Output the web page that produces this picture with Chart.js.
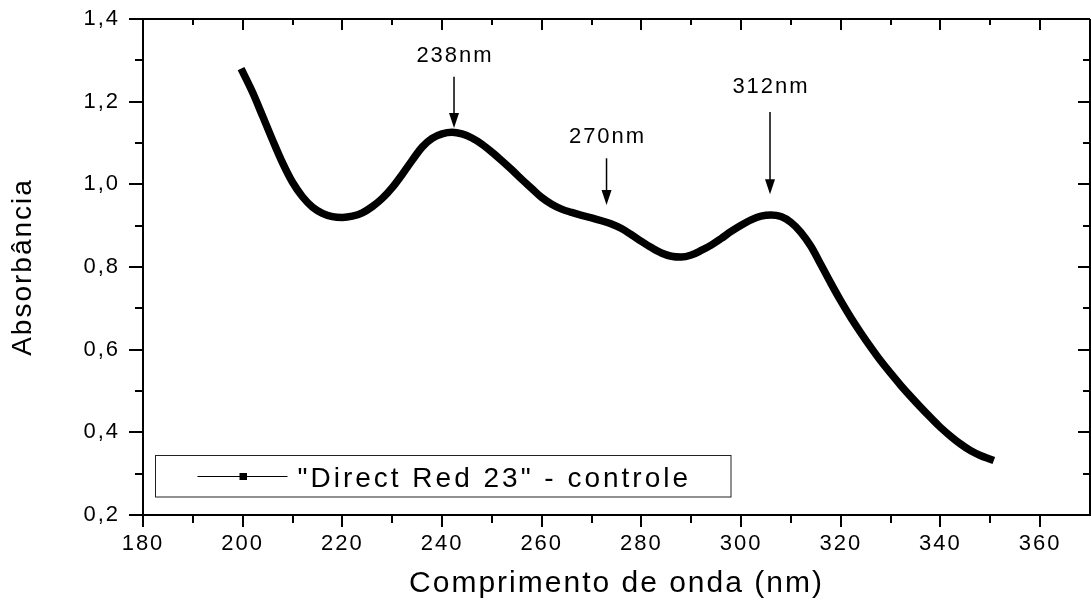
<!DOCTYPE html>
<html lang="pt">
<head>
<meta charset="UTF-8">
<title>Direct Red 23 - controle</title>
<script src="https://cdn.jsdelivr.net/npm/chart.js"></script>
<style>
  html, body { margin: 0; padding: 0; background: #fff; }
  #wrap { width: 1091px; height: 603px; }
</style>
</head>
<body>
<div id="wrap"><canvas id="chart" width="1091" height="603"></canvas></div>
<script>
// wavelength (nm) and absorbance
var wavelengths = [200, 202, 204, 206, 208, 210, 212, 214, 216, 218,
                   220, 222, 224, 226, 228, 230, 232, 234, 236, 238,
                   240, 242, 244, 246, 248, 250, 252, 254, 256, 258,
                   260, 262, 264, 266, 268, 270, 272, 274, 276, 278,
                   280, 282, 284, 286, 288, 290, 292, 294, 296, 298,
                   300, 302, 304, 306, 308, 310, 312, 314, 316, 318,
                   320, 322, 324, 326, 328, 330, 332, 334, 336, 338,
                   340, 342, 344, 346, 348, 350];
var absorbance = [1.272, 1.222, 1.165, 1.107, 1.052, 1.005, 0.970, 0.945, 0.930, 0.922,
                  0.920, 0.923, 0.931, 0.946, 0.966, 0.992, 1.024, 1.058, 1.090, 1.111,
                  1.122, 1.126, 1.122, 1.112, 1.097, 1.078, 1.057, 1.035, 1.012, 0.990,
                  0.968, 0.952, 0.940, 0.932, 0.925, 0.919, 0.912, 0.904, 0.893, 0.878,
                  0.862, 0.847, 0.834, 0.826, 0.824, 0.829, 0.840, 0.853, 0.869, 0.886,
                  0.901, 0.914, 0.923, 0.926, 0.922, 0.908, 0.884, 0.850, 0.806, 0.761,
                  0.718, 0.678, 0.641, 0.606, 0.573, 0.543, 0.514, 0.487, 0.461, 0.436,
                  0.412, 0.391, 0.372, 0.356, 0.344, 0.335];
var seriesLabel = '"Direct Red 23" - controle';

var xMajorTicks = [180, 200, 220, 240, 260, 280, 300, 320, 340, 360];
var xMinorTicks = [190, 210, 230, 250, 270, 290, 310, 330, 350];
var yMajorTicks = [0.2, 0.4, 0.6, 0.8, 1.0, 1.2, 1.4];
var yMinorTicks = [0.3, 0.5, 0.7, 0.9, 1.1, 1.3];

// peak markers: label text, arrow x, label baseline, arrow top and tip (data units)
var peakLabels = ['238nm', '270nm', '312nm'];
var peakArrowX = [242.4, 273.0, 305.8];
var peakLabelY = [1.295, 1.099, 1.221];
var peakArrowTop = [1.260, 1.063, 1.175];
var peakArrowTip = [1.136, 0.950, 0.976];

var points = wavelengths.map(function (w, i) { return { x: w, y: absorbance[i] }; });

// frame, inward/outward ticks, legend box and peak arrows
var decorPlugin = {
    id: 'decor',
    beforeDraw: function (chart) {
        chart.ctx.letterSpacing = '2px';
    },
    afterDraw: function (chart) {
        var ctx = chart.ctx, a = chart.chartArea;
        var x = chart.scales.x, y = chart.scales.y;
        ctx.save();
        ctx.letterSpacing = '0px';
        ctx.strokeStyle = '#000';
        ctx.lineWidth = 2;

        ctx.beginPath();
        ctx.moveTo(a.left - 14, a.top);
        ctx.lineTo(a.right, a.top);
        ctx.moveTo(a.right, a.top);
        ctx.lineTo(a.right, a.bottom);

        xMajorTicks.forEach(function (v) {
            var px = Math.round(x.getPixelForValue(v));
            ctx.moveTo(px, a.bottom); ctx.lineTo(px, a.bottom + 12);
            ctx.moveTo(px, a.top); ctx.lineTo(px, a.top + 11);
        });
        xMinorTicks.forEach(function (v) {
            var px = Math.round(x.getPixelForValue(v));
            ctx.moveTo(px, a.bottom); ctx.lineTo(px, a.bottom + 8);
            ctx.moveTo(px, a.top); ctx.lineTo(px, a.top + 6);
        });
        yMajorTicks.forEach(function (v) {
            var py = Math.round(y.getPixelForValue(v));
            ctx.moveTo(a.left, py); ctx.lineTo(a.left - 14, py);
            ctx.moveTo(a.right, py); ctx.lineTo(a.right - 12, py);
        });
        yMinorTicks.forEach(function (v) {
            var py = Math.round(y.getPixelForValue(v));
            ctx.moveTo(a.left, py); ctx.lineTo(a.left - 8, py);
            ctx.moveTo(a.right, py); ctx.lineTo(a.right - 7, py);
        });
        ctx.stroke();

        // peak arrows
        ctx.lineWidth = 1.5;
        ctx.fillStyle = '#000';
        ctx.font = '22px Arial, "Liberation Sans", sans-serif';
        ctx.letterSpacing = '2px';
        ctx.textAlign = 'center';
        ctx.textBaseline = 'alphabetic';
        peakLabels.forEach(function (lbl, i) {
            var px = x.getPixelForValue(peakArrowX[i]);
            var top = y.getPixelForValue(peakArrowTop[i]);
            var tip = y.getPixelForValue(peakArrowTip[i]);
            ctx.beginPath();
            ctx.moveTo(px, top);
            ctx.lineTo(px, tip - 10);
            ctx.stroke();
            ctx.beginPath();
            ctx.moveTo(px - 5, tip - 15);
            ctx.lineTo(px + 5, tip - 15);
            ctx.lineTo(px, tip);
            ctx.closePath();
            ctx.fill();
            ctx.fillText(lbl, px + 1, y.getPixelForValue(peakLabelY[i]));
        });

        // legend box
        var lx = a.left + 12.5, ly = a.bottom - 59.5, lw = 575.5, lh = 41.5;
        ctx.lineWidth = 1;
        ctx.strokeStyle = '#222';
        ctx.fillStyle = '#fff';
        ctx.fillRect(lx, ly, lw, lh);
        ctx.strokeRect(lx, ly, lw, lh);
        var cy = Math.round(ly + lh / 2) + 0.5;
        ctx.beginPath();
        ctx.strokeStyle = '#000';
        ctx.moveTo(lx + 42, cy);
        ctx.lineTo(lx + 132, cy);
        ctx.stroke();
        ctx.fillStyle = '#000';
        ctx.fillRect(lx + 84, cy - 3.5, 7.5, 7);
        ctx.font = '28px Arial, "Liberation Sans", sans-serif';
        ctx.letterSpacing = '3px';
        ctx.textAlign = 'left';
        ctx.fillText(chart.data.datasets[0].label, lx + 142, ly + 31);
        ctx.restore();
    }
};

var fontFamily = 'Arial, "Liberation Sans", sans-serif';

new Chart(document.getElementById('chart').getContext('2d'), {
    type: 'line',
    data: {
        datasets: [{
            label: seriesLabel,
            data: points,
            borderColor: '#000',
            backgroundColor: '#000',
            borderWidth: 7.5,
            borderCapStyle: 'square',
            pointRadius: 0,
            cubicInterpolationMode: 'monotone',
            fill: false
        }]
    },
    options: {
        responsive: false,
        animation: false,
        layout: { padding: { top: 19, right: 1, left: 0, bottom: 0 } },
        plugins: {
            legend: { display: false },
            tooltip: { enabled: false }
        },
        scales: {
            x: {
                type: 'linear',
                min: 180,
                max: 370,
                afterBuildTicks: function (s) {
                    s.ticks = xMajorTicks.map(function (v) { return { value: v }; });
                },
                afterFit: function (s) {
                    s.height = 88;
                    s.paddingLeft = 0;
                    s.paddingRight = 0;
                },
                grid: { display: true, drawOnChartArea: false, drawTicks: false },
                border: { display: true, color: '#000', width: 2 },
                ticks: {
                    color: '#000',
                    padding: 16,
                    maxRotation: 0,
                    autoSkip: false,
                    font: { family: fontFamily, size: 22 }
                },
                title: {
                    display: true,
                    text: 'Comprimento de onda (nm)',
                    color: '#000',
                    font: { family: fontFamily, size: 30 },
                    padding: { top: 0, bottom: 1 }
                }
            },
            y: {
                type: 'linear',
                min: 0.2,
                max: 1.4,
                afterBuildTicks: function (s) {
                    s.ticks = yMajorTicks.map(function (v) { return { value: v }; });
                },
                afterFit: function (s) {
                    s.width = 143;
                    s.paddingTop = 0;
                    s.paddingBottom = 0;
                },
                grid: { display: true, drawOnChartArea: false, drawTicks: false },
                border: { display: true, color: '#000', width: 2 },
                ticks: {
                    color: '#000',
                    padding: 23,
                    font: { family: fontFamily, size: 22 },
                    callback: function (v) { return v.toFixed(1).replace('.', ','); }
                },
                title: {
                    display: true,
                    text: 'Absorbância',
                    color: '#000',
                    font: { family: fontFamily, size: 28 },
                    padding: { top: 6, bottom: 0 }
                }
            }
        }
    },
    plugins: [decorPlugin]
});
</script>
</body>
</html>
